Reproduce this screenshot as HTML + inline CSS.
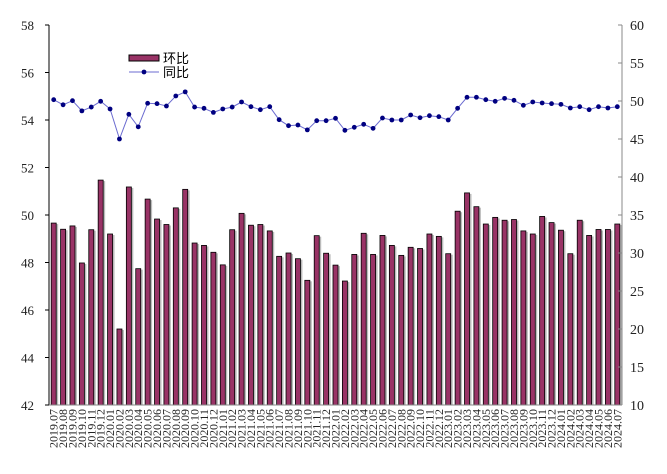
<!DOCTYPE html>
<html><head><meta charset="utf-8"><style>
html,body{margin:0;padding:0;background:#fff;}
svg{display:block;font-family:"Liberation Serif","Noto Sans CJK SC",serif;}
</style></head><body>
<svg id="chart" width="667" height="474" viewBox="0 0 667 474" xmlns="http://www.w3.org/2000/svg">
<g id="bars"></g>
<g id="line"></g>
<g id="axes"></g>
<g id="legend">
<rect x="129" y="55" width="30" height="6" fill="#993366" stroke="#000" stroke-width="1"/>
<text x="163" y="63" font-size="13" font-family="Liberation Sans,Noto Sans CJK SC,sans-serif">环比</text>
<line x1="129" y1="72" x2="159" y2="72" stroke="#6b6bd0" stroke-width="1"/>
<circle cx="144" cy="72" r="2.4" fill="#000080"/>
<text x="163" y="77" font-size="13" font-family="Liberation Sans,Noto Sans CJK SC,sans-serif">同比</text>
</g>
</svg>
<script>
const momValues=[49.66,49.4,49.54,47.98,49.38,51.47,49.2,45.2,51.18,47.74,50.67,49.83,49.6,50.3,51.08,48.82,48.72,48.43,47.9,49.38,50.07,49.57,49.6,49.33,48.26,48.4,48.16,47.25,49.13,48.39,47.89,47.22,48.34,49.23,48.34,49.14,48.72,48.30,48.64,48.59,49.2,49.1,48.37,50.16,50.93,50.35,49.62,49.9,49.78,49.81,49.33,49.2,49.94,49.68,49.36,48.37,49.78,49.14,49.39,49.39,49.62];
const yoyValues=[50.17,49.5,50.04,48.7,49.2,49.96,48.95,45.0,48.25,46.6,49.7,49.65,49.34,50.66,51.2,49.2,49.04,48.5,48.95,49.2,49.87,49.25,48.86,49.25,47.54,46.75,46.84,46.2,47.41,47.41,47.72,46.14,46.54,46.93,46.4,47.76,47.5,47.5,48.16,47.8,48.07,47.94,47.5,49.04,50.49,50.49,50.17,49.96,50.35,50.09,49.43,49.87,49.74,49.65,49.56,49.08,49.25,48.86,49.25,49.08,49.25];
const leftTicks=[42,44,46,48,50,52,54,56,58];
const rightTicks=[10,15,20,25,30,35,40,45,50,55,60];
const categories=[];
for(let i=0;i<61;i++){const m=7+i;const y=2019+Math.floor((m-1)/12);const mm=((m-1)%12)+1;categories.push(y+'.'+(mm<10?'0':'')+mm);}
const NS='http://www.w3.org/2000/svg';
const X0=49,X1=622,YT=25,YB=405;
const slot=(X1-X0)/categories.length;
const xc=i=>X0+slot*(i+0.5);
const yL=v=>YB-(v-42)/(58-42)*(YB-YT);
const yR=v=>YB-(v-10)/(60-10)*(YB-YT);
function mk(tag,attrs,parent){const e=document.createElementNS(NS,tag);for(const k in attrs)e.setAttribute(k,attrs[k]);parent.appendChild(e);return e;}
const bars=document.getElementById('bars'),line=document.getElementById('line'),axes=document.getElementById('axes');
momValues.forEach((v,i)=>{
 const y=yL(v);
 const s=mk('rect',{x:xc(i)-2+1.5,y:y+1,width:5,height:YB-y-1,fill:'#bbb'},bars);
 
 
 const r=mk('rect',{x:xc(i)-2.5,y:y,width:5,height:YB-y,fill:'#993366',stroke:'#000','stroke-width':0.8},bars);
 
 
});
const pts=yoyValues.map((v,i)=>xc(i).toFixed(1)+','+yR(v).toFixed(1)).join(' ');
const pl=mk('polyline',{points:pts,fill:'none',stroke:'#6b6bd0','stroke-width':1},line);


yoyValues.forEach((v,i)=>{
 const c=mk('circle',{cx:xc(i),cy:yR(v),r:2.4,fill:'#000080'},line);
 
 
});
const la=mk('line',{x1:X0,y1:YT,x2:X0,y2:YB,stroke:'#000','stroke-width':1},axes);


const ra=mk('line',{x1:X1,y1:YT,x2:X1,y2:YB,stroke:'#888','stroke-width':1},axes);


const ba=mk('line',{x1:X0,y1:YB,x2:X1,y2:YB,stroke:'#888','stroke-width':1},axes);


leftTicks.forEach(t=>{
 const y=yL(t);
 mk('line',{x1:X0-4,y1:y,x2:X0,y2:y,stroke:'#000'},axes);
 const tx=mk('text',{x:34,y:y+5,'font-size':13,'text-anchor':'end',fill:'#222'},axes);
 tx.textContent=t;
 
 
});
rightTicks.forEach(t=>{
 const y=yR(t);
 mk('line',{x1:X1-4,y1:y,x2:X1,y2:y,stroke:'#888'},axes);
 const tx=mk('text',{x:630,y:y+5,'font-size':14,fill:'#222'},axes);
 tx.textContent=t;
 
 
});
categories.forEach((c,i)=>{
 const x=xc(i)+4;
 const tx=mk('text',{x:x,y:409,'font-size':12,'text-anchor':'end',fill:'#222',transform:'rotate(-90 '+x+' 409)'},axes);
 tx.textContent=c;
 
 
});
</script>
</body></html>
